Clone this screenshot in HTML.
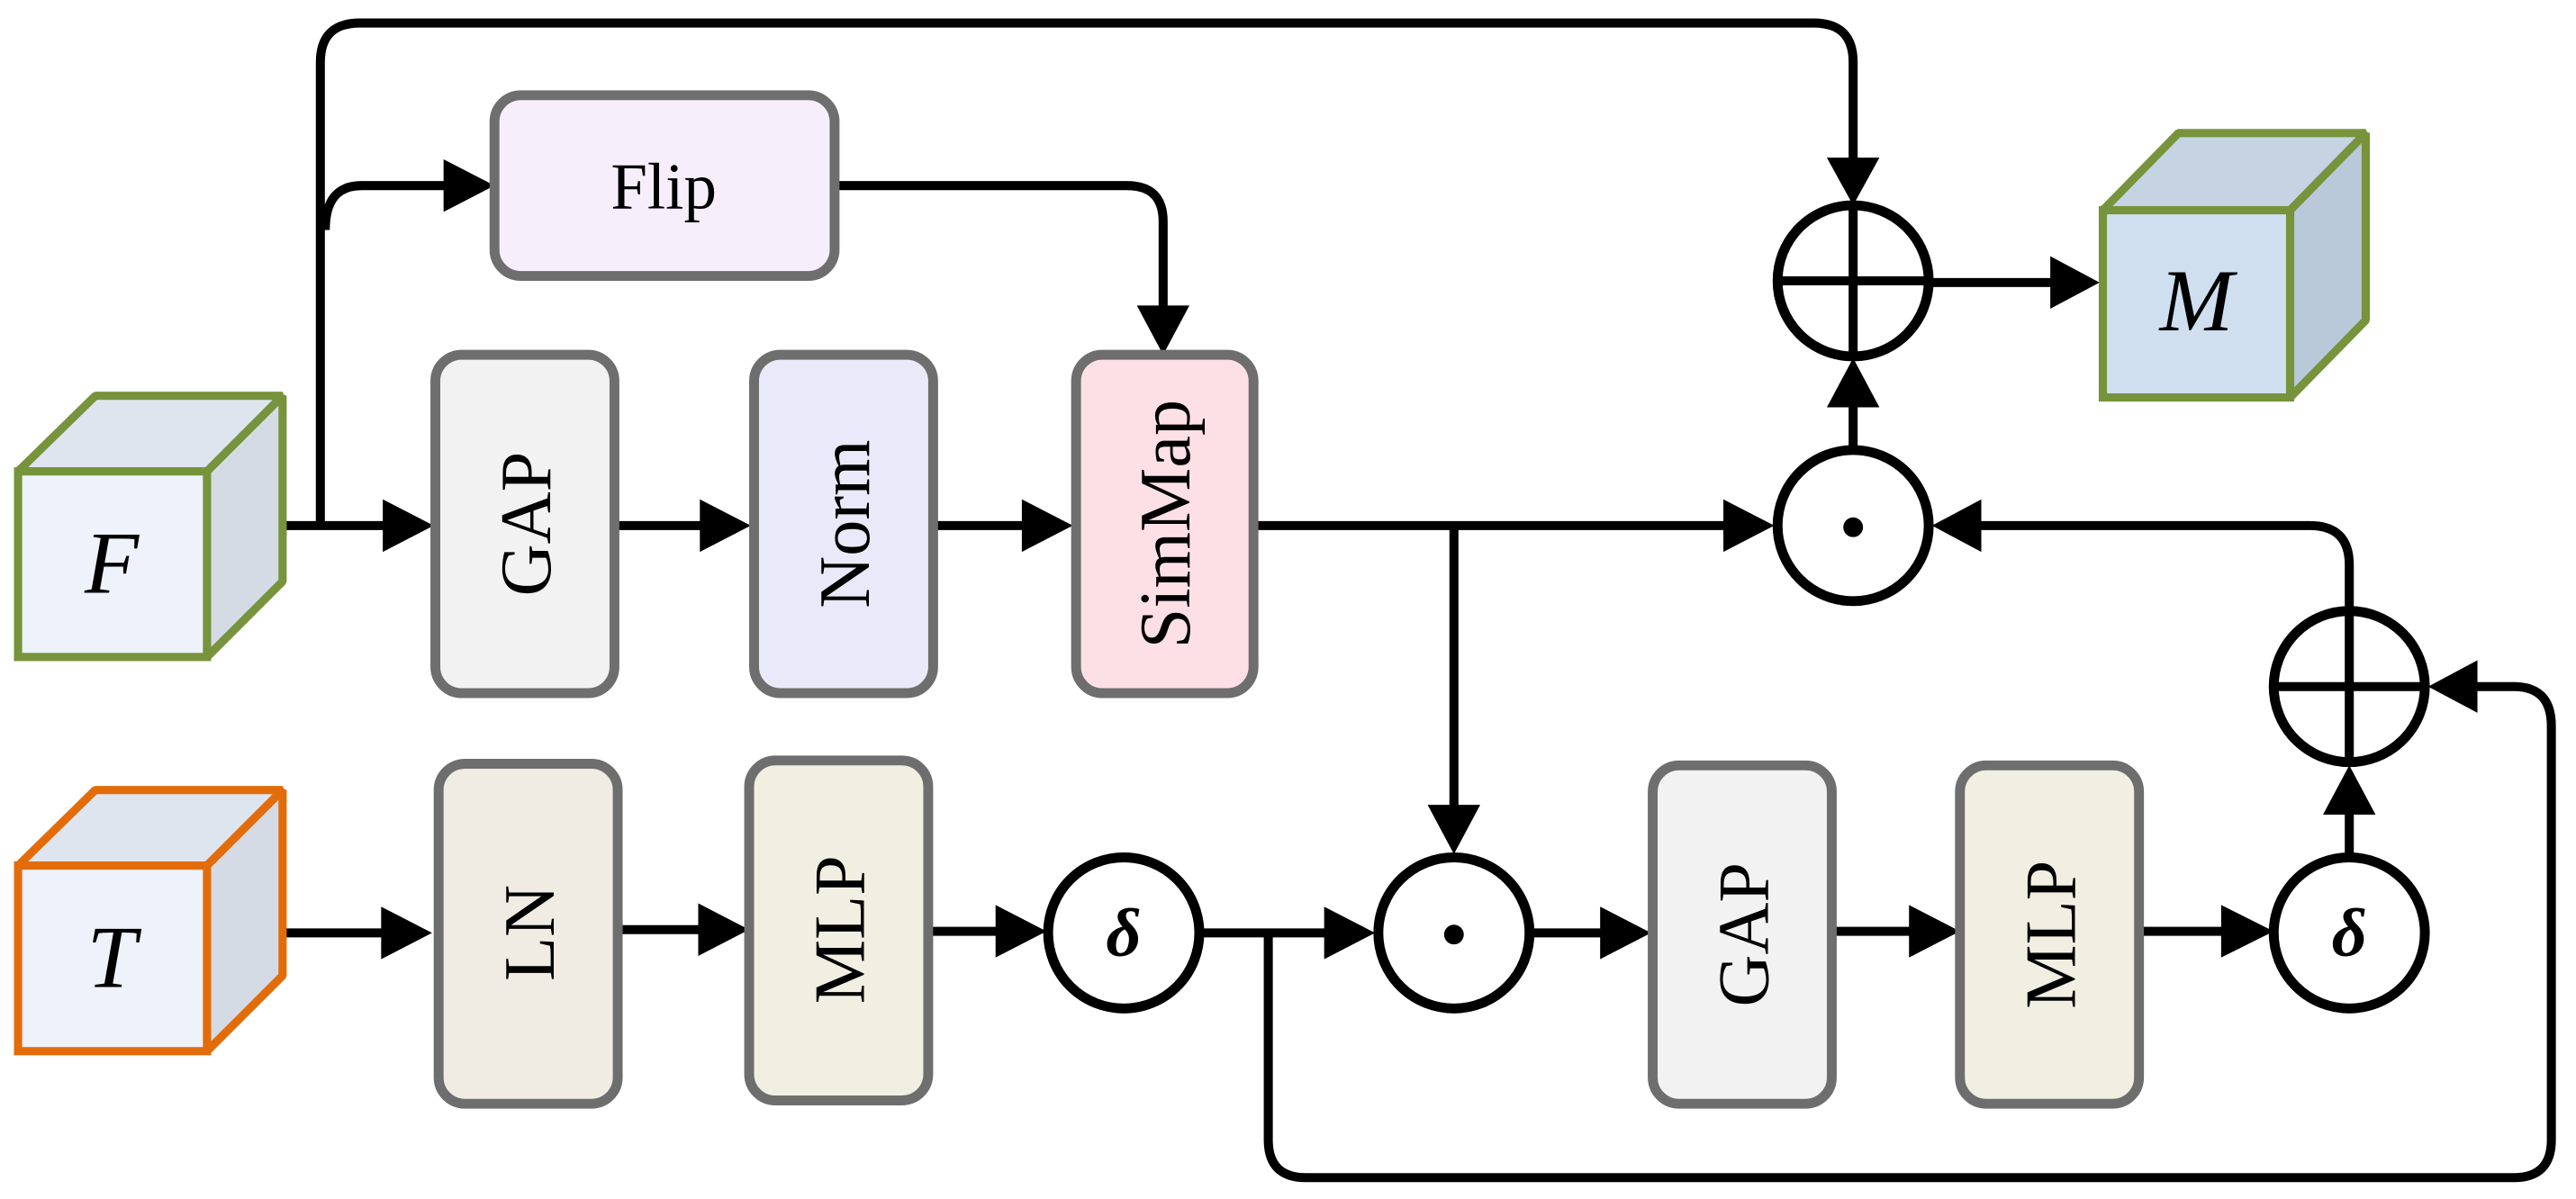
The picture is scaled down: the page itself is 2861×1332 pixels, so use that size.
<!DOCTYPE html>
<html><head><meta charset="utf-8"><style>html,body{margin:0;padding:0;background:#fff}svg{display:block}text{font-family:"Liberation Serif","Times New Roman",serif}</style></head><body>
<svg width="2861" height="1332" viewBox="0 0 1568 730" preserveAspectRatio="none" xmlns="http://www.w3.org/2000/svg">
<g fill="#000">
<g fill="none" stroke="#000" stroke-width="5.5">
<path d="M172,320 H236"/>
<path d="M195,320 V38 Q195,14 219,14 H1104 Q1128,14 1128,38 V98"/>
<path d="M198,140 Q198,113 220,113 H272"/>
<path d="M508,113 H686 Q708,113 708,135 V188"/>
<path d="M374,320 H428"/><path d="M568,320 H624"/>
<path d="M763,320 H1050"/><path d="M885,320 V492"/>
<path d="M1174,172 H1250"/><path d="M1128,274 V246"/>
<path d="M1430,372 V344 Q1430,320 1406,320 H1204"/>
<path d="M166,568 H234"/><path d="M376,566 H427"/><path d="M565,567 H608"/>
<path d="M730,568 H808"/>
<path d="M772,568 V694 Q772,717 795,717 H1530 Q1553,717 1553,694 V442 Q1553,418 1530,418 H1506"/>
<path d="M931,568 H976"/><path d="M1115,567 H1164"/><path d="M1302,567 H1354"/>
<path d="M1430,522 V494"/>
</g>
<polygon points="264,320 233,304 233,336"/>
<polygon points="301,113 270,97 270,129"/>
<polygon points="1128,125 1112,96 1144,96"/>
<polygon points="708,216 692,186 724,186"/>
<polygon points="457,320 426,304 426,336"/>
<polygon points="653,320 622,304 622,336"/>
<polygon points="1080,320 1049,304 1049,336"/>
<polygon points="885,520 869,490 901,490"/>
<polygon points="1278,172 1248,156 1248,188"/>
<polygon points="1128,218 1112,248 1144,248"/>
<polygon points="1176,320 1206,304 1206,336"/>
<polygon points="263,568 232,552 232,584"/>
<polygon points="456,566 425,550 425,582"/>
<polygon points="637,567 606,551 606,583"/>
<polygon points="837,568 806,552 806,584"/>
<polygon points="1478,418 1508,402 1508,434"/>
<polygon points="1005,568 974,552 974,584"/>
<polygon points="1193,567 1162,551 1162,583"/>
<polygon points="1384,567 1352,551 1352,583"/>
<polygon points="1430,466 1414,496 1446,496"/>
<g stroke="#6e6e6e" stroke-width="6">
<rect x="301" y="58" width="207" height="110" rx="16" fill="#f6effb"/>
<rect x="265" y="216" width="109" height="206" rx="16" fill="#f2f2f2"/>
<rect x="459" y="216" width="109" height="206" rx="16" fill="#eae9f9"/>
<rect x="655" y="216" width="108" height="206" rx="16" fill="#fde0e5"/>
<rect x="267" y="465" width="109" height="207" rx="16" fill="#f0ece4"/>
<rect x="456" y="463" width="109" height="207" rx="16" fill="#f1efe2"/>
<rect x="1006" y="466" width="109" height="206" rx="16" fill="#f2f2f2"/>
<rect x="1193" y="466" width="109" height="206" rx="16" fill="#f1efe2"/>
</g>
<text x="404" y="127" font-size="40" text-anchor="middle">Flip</text>
<g font-size="44" text-anchor="middle">
<text transform="translate(335,319) rotate(-90)">GAP</text>
<text transform="translate(529,319) rotate(-90)">Norm</text>
<text transform="translate(724,319) rotate(-90)">SimMap</text>
<text transform="translate(337,568) rotate(-90)">LN</text>
<text transform="translate(526,566) rotate(-90)">MLP</text>
<text transform="translate(1076,569) rotate(-90)">GAP</text>
<text transform="translate(1263,569) rotate(-90)">MLP</text>
</g>
<g fill="#fff" stroke="#000" stroke-width="6">
<circle cx="684" cy="568" r="46"/><circle cx="885" cy="568" r="46"/>
<circle cx="1430" cy="568" r="46"/><circle cx="1128" cy="320" r="46"/>
<circle cx="1128" cy="171" r="46"/><circle cx="1430" cy="418" r="46"/>
<path d="M1082,171 H1174 M1128,125 V217 M1384,418 H1476 M1430,372 V464" fill="none" stroke-width="5.5"/>
</g>
<circle cx="885" cy="569" r="6"/><circle cx="1128" cy="321" r="6"/>
<g font-size="42" font-style="italic" text-anchor="middle" font-weight="bold">
<text x="684" y="582">δ</text><text x="1430" y="582">δ</text>
</g>
<g stroke-width="5" stroke-linejoin="bevel">
<g stroke="#77933c">
<polygon points="11,287 58,241 172,241 126,287" fill="#dfe5ef"/>
<polygon points="126,287 172,241 172,354 126,400" fill="#d5dbe5"/>
<rect x="11" y="287" width="115" height="113" fill="#eef2fb" stroke-linejoin="miter"/>
</g>
<g stroke="#e36c0a">
<polygon points="11,527 58,481 172,481 126,527" fill="#dfe5ef"/>
<polygon points="126,527 172,481 172,594 126,640" fill="#d5dbe5"/>
<rect x="11" y="527" width="115" height="113" fill="#eef2fb" stroke-linejoin="miter"/>
</g>
<g stroke="#77933c">
<polygon points="1280,128 1326,81 1440,81 1394,128" fill="#c5d3e3"/>
<polygon points="1394,128 1440,81 1440,195 1394,242" fill="#b9c9da"/>
<rect x="1280" y="128" width="114" height="114" fill="#cfdff0" stroke-linejoin="miter"/>
</g>
</g>
<g font-size="54" font-style="italic" text-anchor="middle">
<text x="68" y="361">F</text><text x="68" y="601">T</text><text x="1337" y="201">M</text>
</g>
</g>
</svg>
</body></html>
